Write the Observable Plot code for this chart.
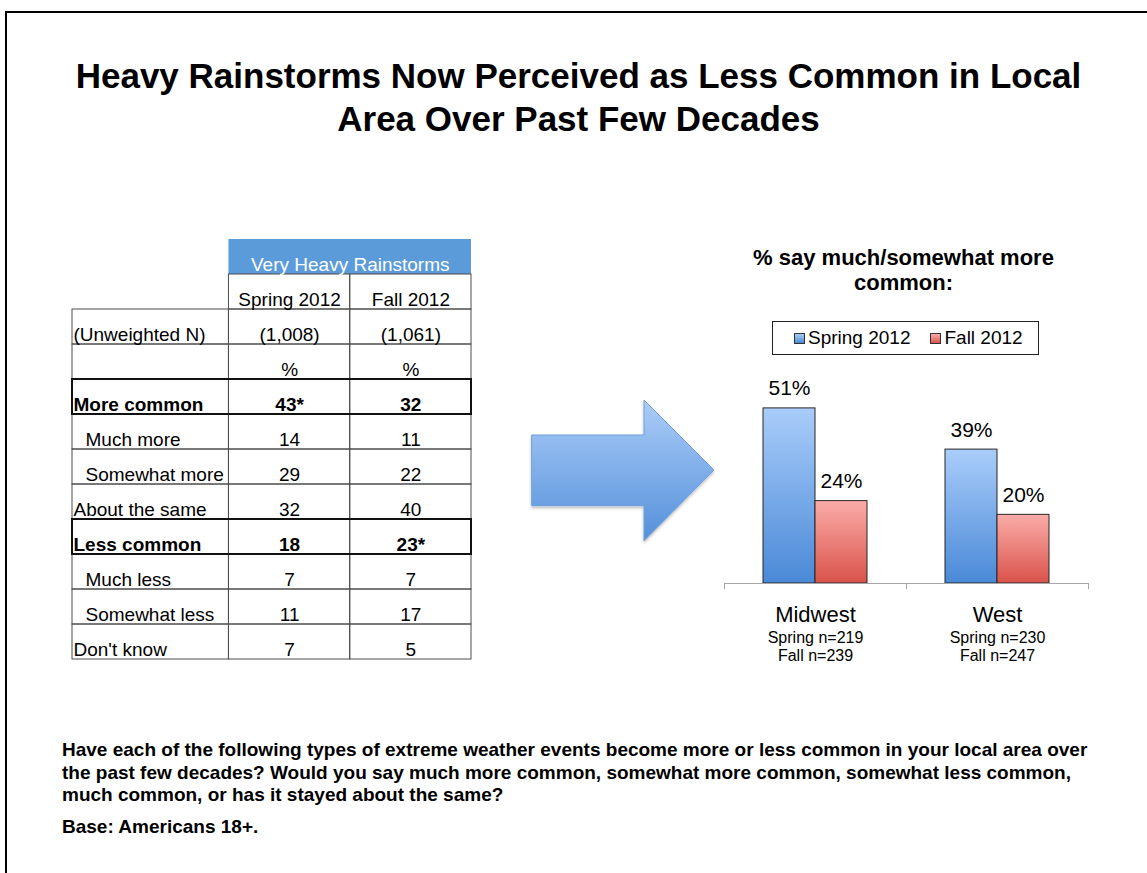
<!DOCTYPE html>
<html><head><meta charset="utf-8">
<script src="https://cdn.jsdelivr.net/npm/d3@7"></script>
<script src="https://cdn.jsdelivr.net/npm/@observablehq/plot@0.6"></script>
<style>
html,body{margin:0;padding:0;background:#fff;}
body{width:1147px;height:873px;overflow:hidden;position:relative;font-family:"Liberation Sans",Arial,Helvetica,sans-serif;color:#000;}
.abs{position:absolute;}
#frame{left:5px;top:11px;width:1300px;height:1000px;border:2px solid #000;box-sizing:border-box;}
#title{left:0;width:1157px;top:54px;font-size:35px;font-weight:bold;line-height:43px;text-align:center;}
#subtitle{left:703px;width:401px;top:245px;font-size:22px;font-weight:bold;line-height:25px;text-align:center;}
#legend{left:772px;top:321px;width:267px;height:34px;border:1px solid #222;box-sizing:border-box;display:flex;align-items:center;font-size:19px;}
#legend .sw{width:11px;height:11px;border:1px solid #333;box-sizing:border-box;margin-right:3px;}
#caption{left:62px;top:739px;font-size:19px;font-weight:bold;line-height:22.6px;white-space:nowrap;}
#base{left:62px;top:816px;font-size:19px;font-weight:bold;line-height:22.6px;}
#table{left:60px;top:230px;}
#chart{left:700px;top:360px;}
</style></head>
<body>
<svg width="0" height="0" style="position:absolute">
  <defs>
    <linearGradient id="gradSpring" x1="0" y1="0" x2="0" y2="1">
      <stop offset="0" stop-color="#a9cdfa"/><stop offset="1" stop-color="#4a89d7"/>
    </linearGradient>
    <linearGradient id="gradFall" x1="0" y1="0" x2="0" y2="1">
      <stop offset="0" stop-color="#fbaca8"/><stop offset="1" stop-color="#d9534b"/>
    </linearGradient>
  </defs>
</svg>
<div id="frame" class="abs"></div>
<div id="title" class="abs">Heavy Rainstorms Now Perceived as Less Common in Local<br>Area Over Past Few Decades</div>
<div id="table" class="abs"></div>
<svg class="abs" style="left:520px;top:390px" width="210" height="165">
  <defs>
    <linearGradient id="gradArrow" x1="0" y1="0" x2="0" y2="1">
      <stop offset="0" stop-color="#aacdf7"/><stop offset="1" stop-color="#5590db"/>
    </linearGradient>
    <filter id="arrowShadow" x="-10%" y="-10%" width="130%" height="130%">
      <feDropShadow dx="0" dy="2" stdDeviation="1.5" flood-color="#000" flood-opacity="0.25"/>
    </filter>
  </defs>
  <polygon points="11.7,45 124,45 124,10 194,80 124,150.7 124,115.7 11.7,115.7" fill="url(#gradArrow)" stroke="#6f9fd8" stroke-width="1" filter="url(#arrowShadow)"/>
</svg>
<div id="subtitle" class="abs">% say much/somewhat more<br>common:</div>
<div id="legend" class="abs"></div>
<div id="chart" class="abs"></div>
<div id="caption" class="abs">Have each of the following types of extreme weather events become more or less common in your local area over<br>the past few decades? Would you say much more common, somewhat more common, somewhat less common,<br>much common, or has it stayed about the same?</div>
<div id="base" class="abs">Base: Americans 18+.</div>
<script>
// ---------- Data ----------
const seasons = ["Spring 2012", "Fall 2012"];
const seasonFills = ["url(#gradSpring)", "url(#gradFall)"];
const tableHeader = "Very Heavy Rainstorms";
const unweightedN = [1008, 1061];
const responses = ["More common", "Much more", "Somewhat more", "About the same", "Less common", "Much less", "Somewhat less", "Don't know"];
const spring2012 = [43, 14, 29, 32, 18, 7, 11, 7];
const fall2012 = [32, 11, 22, 40, 23, 7, 17, 5];
const springSignificant = ["More common"];
const fallSignificant = ["Less common"];
const netRows = ["More common", "Less common"];
const subRows = ["Much more", "Somewhat more", "Much less", "Somewhat less"];

const regions = ["Midwest", "West"];
const springMoreCommon = [51, 39];
const fallMoreCommon = [24, 20];
const springN = [219, 230];
const fallN = [239, 247];

// ---------- Common style ----------
const FONT = "'Liberation Sans', Arial, Helvetica, sans-serif";
const baseStyle = {fontFamily: FONT, background: "transparent", overflow: "visible", color: "#000"};

// ---------- Table ----------
const labelW = 1.29;
const rowKeys = ["header", "period", "n", "pct", ...responses];
const cols = [
  {key: "label", x1: -labelW, x2: 0},
  {key: seasons[0], x1: 0, x2: 1},
  {key: seasons[1], x1: 1, x2: 2}
];
const cells = [];
rowKeys.forEach(r => {
  if (r === "header") return;
  cols.forEach(c => {
    if (r === "period" && c.key === "label") return;
    cells.push({row: r, x1: c.x1, x2: c.x2});
  });
});
const valueTexts = [];
seasons.forEach((s, j) => valueTexts.push({row: "period", col: j + 0.5, t: s, bold: false}));
unweightedN.forEach((n, j) => valueTexts.push({row: "n", col: j + 0.5, t: "(" + d3.format(",")(n) + ")", bold: false}));
seasons.forEach((s, j) => valueTexts.push({row: "pct", col: j + 0.5, t: "%", bold: false}));
responses.forEach((r, i) => {
  valueTexts.push({row: r, col: 0.5, t: spring2012[i] + (springSignificant.includes(r) ? "*" : ""), bold: netRows.includes(r)});
  valueTexts.push({row: r, col: 1.5, t: fall2012[i] + (fallSignificant.includes(r) ? "*" : ""), bold: netRows.includes(r)});
});
const labelTexts = [{row: "n", t: "(Unweighted N)", bold: false, sub: false},
  ...responses.map(r => ({row: r, t: r, bold: netRows.includes(r), sub: subRows.includes(r)}))];

const txt = {y: "row", lineAnchor: "bottom", dy: 14, fontSize: 19, fill: "#000"};
const table = Plot.plot({
  width: 420, height: 440,
  marginLeft: 12, marginRight: 9, marginTop: 7, marginBottom: 9,
  x: {domain: [-labelW, 2], axis: null},
  y: {type: "band", domain: rowKeys, padding: 0, axis: null},
  style: baseStyle,
  marks: [
    Plot.barX([{row: "header"}], {x1: 0, x2: 2, y: "row", fill: "#5c9bda"}),
    Plot.barX(cells, {x1: "x1", x2: "x2", y: "row", fill: "none", stroke: "#4d4d4d", strokeWidth: 1}),
    Plot.barX(netRows.map(r => ({row: r})), {x1: -labelW, x2: 2, y: "row", fill: "none", stroke: "#111", strokeWidth: 2}),
    Plot.text([{row: "header", t: tableHeader}], {...txt, x: 1, text: "t", fill: "#fff"}),
    Plot.text(valueTexts.filter(d => !d.bold), {...txt, x: "col", text: "t"}),
    Plot.text(valueTexts.filter(d => d.bold), {...txt, x: "col", text: "t", fontWeight: "bold"}),
    Plot.text(labelTexts.filter(d => !d.bold && !d.sub), {...txt, x: -labelW, text: "t", textAnchor: "start", dx: 1}),
    Plot.text(labelTexts.filter(d => d.sub), {...txt, x: -labelW, text: "t", textAnchor: "start", dx: 13}),
    Plot.text(labelTexts.filter(d => d.bold), {...txt, x: -labelW, text: "t", textAnchor: "start", dx: 1, fontWeight: "bold"})
  ]
});
document.getElementById("table").appendChild(table);

// ---------- Legend ----------
const legend = document.getElementById("legend");
seasons.forEach((s, j) => {
  const sw = document.createElement("span");
  sw.className = "sw";
  sw.style.marginLeft = j === 0 ? "21px" : "20px";
  sw.style.background = j === 0 ? "linear-gradient(#a9cdfa,#4a89d7)" : "linear-gradient(#fbaca8,#d9534b)";
  const lab = document.createElement("span");
  lab.textContent = s;
  legend.appendChild(sw);
  legend.appendChild(lab);
});

// ---------- Bar chart ----------
const barData = regions.flatMap((r, i) => [
  {region: r, season: seasons[0], value: springMoreCommon[i]},
  {region: r, season: seasons[1], value: fallMoreCommon[i]}
]);
const regionData = regions.map((r, i) => ({region: r, n: `Spring n=${springN[i]}\nFall n=${fallN[i]}`}));
const halfBand = 91;
const axisGray = "#a6a6a6";
const chart = Plot.plot({
  width: 410, height: 310,
  marginLeft: 24, marginRight: 22, marginTop: 17, marginBottom: 87,
  x: {type: "band", domain: regions, padding: 0, axis: null},
  y: {domain: [0, 60], axis: null},
  style: baseStyle,
  marks: [
    Plot.barY(barData.filter(d => d.season === seasons[0]), {x: "region", y: "value", fill: seasonFills[0], stroke: "#262626", strokeWidth: 1, insetLeft: 39, insetRight: 91}),
    Plot.barY(barData.filter(d => d.season === seasons[1]), {x: "region", y: "value", fill: seasonFills[1], stroke: "#262626", strokeWidth: 1, insetLeft: 91, insetRight: 39}),
    Plot.ruleY([0], {stroke: axisGray, strokeWidth: 1}),
    Plot.ruleX(regions, {x: d => d, dx: -halfBand, y1: 0, y2: -1.8, stroke: axisGray}),
    Plot.ruleX(regions.slice(-1), {x: d => d, dx: halfBand, y1: 0, y2: -1.8, stroke: axisGray}),
    Plot.text(barData.filter(d => d.season === seasons[0]), {x: "region", y: "value", text: d => d.value + "%", dx: -26, dy: -13, lineAnchor: "bottom", fontSize: 21, fill: "#000"}),
    Plot.text(barData.filter(d => d.season === seasons[1]), {x: "region", y: "value", text: d => d.value + "%", dx: 26, dy: -13, lineAnchor: "bottom", fontSize: 21, fill: "#000"}),
    Plot.text(regionData, {x: "region", frameAnchor: "bottom", text: "region", fontSize: 22, lineAnchor: "bottom", dy: 38, fill: "#000"}),
    Plot.text(regionData, {x: "region", frameAnchor: "bottom", text: "n", fontSize: 16, lineHeight: 1.125, lineAnchor: "bottom", dy: 77, fill: "#000"})
  ]
});
document.getElementById("chart").appendChild(chart);
</script>
</body></html>
